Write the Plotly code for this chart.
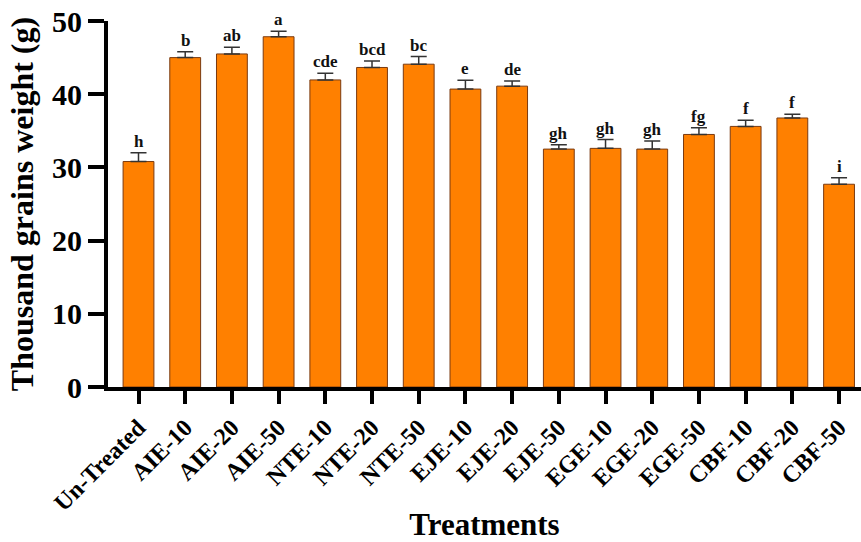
import plotly.graph_objects as go

treatments = ["Un-Treated", "AIE-10", "AIE-20", "AIE-50", "NTE-10", "NTE-20", "NTE-50",
              "EJE-10", "EJE-20", "EJE-50", "EGE-10", "EGE-20", "EGE-50",
              "CBF-10", "CBF-20", "CBF-50"]
weight = [30.8, 45.0, 45.5, 47.85, 41.95, 43.65, 44.1, 40.7, 41.1, 32.5, 32.6, 32.5,
          34.5, 35.6, 36.75, 27.7]
sem = [1.2, 0.8, 0.9, 0.75, 0.9, 0.9, 1.05, 1.2, 0.7, 0.6, 1.2, 1.1, 0.9, 0.85, 0.5, 0.9]
letters = ["h", "b", "ab", "a", "cde", "bcd", "bc", "e", "de", "gh", "gh", "gh",
           "fg", "f", "f", "i"]
y_ticks = [0, 10, 20, 30, 40, 50]

serif = "Liberation Serif, Times New Roman, serif"

fig = go.Figure()
fig.add_trace(go.Bar(
    x=list(range(len(treatments))),
    y=weight,
    width=0.66,
    marker=dict(color="#FF8000", line=dict(color="#7A3A10", width=1)),
    error_y=dict(type="data", symmetric=False, array=sem,
                 arrayminus=[0] * len(sem), color="#333333",
                 thickness=1.5, width=8),
))

# significance letters above each error bar
for i, (v, e, lab) in enumerate(zip(weight, sem, letters)):
    fig.add_annotation(x=i, y=v + e, text="<b>%s</b>" % lab, showarrow=False,
                       yanchor="bottom", yshift=0,
                       font=dict(family=serif, size=17, color="#111111"))

fig.update_layout(
    width=861, height=542,
    margin=dict(l=108, r=0, t=21, b=155),
    paper_bgcolor="white", plot_bgcolor="white",
    showlegend=False,
)
fig.update_xaxes(
    automargin=False,
    range=[-0.653, 15.47],
    tickmode="array", tickvals=list(range(len(treatments))), ticktext=treatments,
    tickangle=-45,
    tickfont=dict(family=serif, size=24, color="black", weight="bold"),
    ticks="outside", ticklen=13, tickwidth=4, tickcolor="black",
    showline=True, linecolor="black", linewidth=4,
    showgrid=False, zeroline=False,
    title=dict(text="<b>Treatments</b>", font=dict(family=serif, size=31, color="black"),
               standoff=8),
)
fig.update_yaxes(
    automargin=False,
    range=[0, 50],
    tickvals=y_ticks,
    tickfont=dict(family=serif, size=30, color="black", weight="bold"),
    ticks="outside", ticklen=16, tickwidth=4, tickcolor="black",
    showline=True, linecolor="black", linewidth=4,
    showgrid=False, zeroline=False,
    title=dict(text="<b>Thousand grains weight (g)</b>",
               font=dict(family=serif, size=32, color="black"), standoff=10),
)

fig.write_html("out.html")
